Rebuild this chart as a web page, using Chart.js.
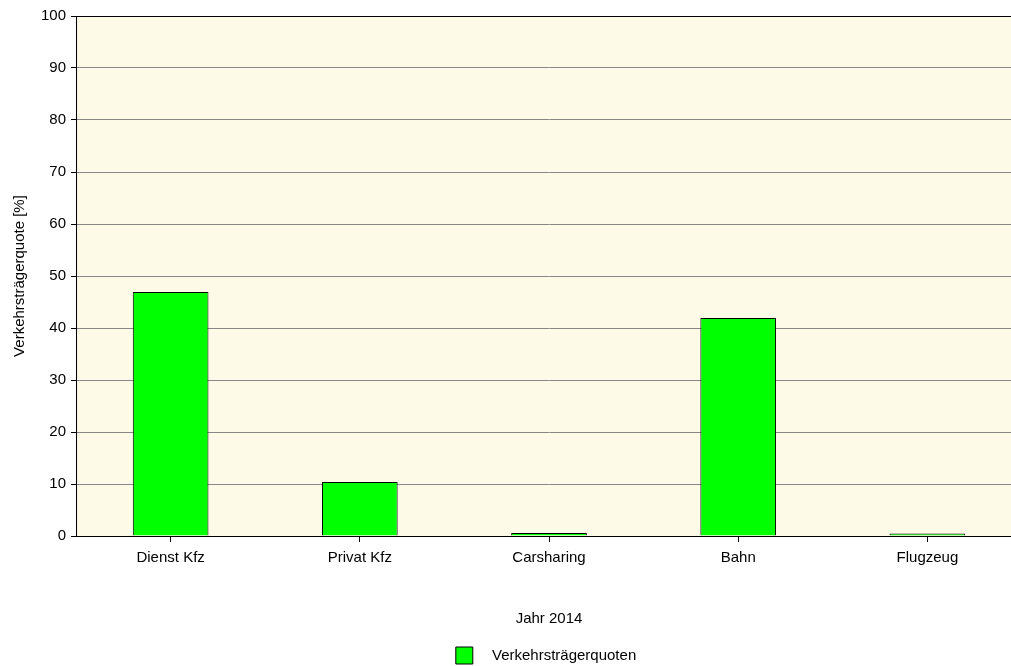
<!DOCTYPE html>
<html><head><meta charset="utf-8">
<script src="https://cdn.jsdelivr.net/npm/chart.js@4/dist/chart.umd.min.js"></script>
<style>html,body{margin:0;padding:0;overflow:hidden;background:#fff}#wrap{width:1022px;height:666px}</style>
</head><body><div id="wrap"><canvas id="c" width="1022" height="666"></canvas></div>
<script>
const categories = ["Dienst Kfz", "Privat Kfz", "Carsharing", "Bahn", "Flugzeug"];
const values = [46.9, 10.4, 0.6, 41.9, 0.5];
const seriesName = "Verkehrsträgerquoten";
const yTitle = "Verkehrsträgerquote [%]";
const xTitle = "Jahr 2014";

const FONT = "'Liberation Sans', Arial, sans-serif";

const bgPlugin = {
  id: 'bg',
  afterLayout(chart) {
    const a = chart.chartArea, lg = chart.legend;
    if (lg) {
      const dx = (a.left + a.right) / 2 - (lg.left + lg.right) / 2 - 3;
      lg.left += dx; lg.right += dx;
      lg.top += 8; lg.bottom += 8;
    }
  },
  beforeDraw(chart) {
    const {ctx, chartArea: a} = chart;
    ctx.save();
    ctx.fillStyle = '#fefae8';
    ctx.fillRect(a.left, a.top, a.right - a.left, a.bottom - a.top);
    ctx.restore();
  },
  afterDatasetsDraw(chart) {
    const {ctx, chartArea: a} = chart;
    ctx.save();
    ctx.strokeStyle = '#000';
    ctx.lineWidth = 1;
    ctx.strokeRect(a.left + 0.5, a.top + 0.5, a.right - a.left, a.bottom - a.top);
    ctx.restore();
  }
};

new Chart(document.getElementById('c'), {
  type: 'bar',
  data: {
    labels: categories,
    datasets: [{
      label: seriesName,
      data: values,
      backgroundColor: '#00ff00',
      borderColor: '#000000',
      borderWidth: 1,
      barPercentage: 0.4,
      categoryPercentage: 1.0
    }]
  },
  options: {
    responsive: false,
    animation: false,
    layout: {padding: {top: 16, left: 11, right: 0, bottom: 0}},
    plugins: {
      legend: {
        position: 'bottom',
        labels: {
          boxWidth: 17, boxHeight: 17, color: '#000', padding: 2,
          font: {family: FONT, size: 15},
          generateLabels(chart) {
            const items = Chart.defaults.plugins.legend.labels.generateLabels(chart);
            items.forEach(it => { it.text = '\u2002 ' + it.text; it.lineWidth = 1; it.strokeStyle = '#000'; });
            return items;
          }
        }
      },
      tooltip: {enabled: false}
    },
    scales: {
      x: {
        offset: true,
        grid: {drawOnChartArea: false, offset: false, drawTicks: true, tickLength: 6, tickColor: '#000'},
        border: {color: '#000'},
        ticks: {color: '#000', padding: 7, font: {family: FONT, size: 15}},
        title: {display: true, text: xTitle, color: '#000', padding: {top: 36, bottom: 9}, font: {family: FONT, size: 15}}
      },
      y: {
        min: 0, max: 100,
        ticks: {stepSize: 10, color: '#000', padding: 5, font: {family: FONT, size: 15}},
        grid: {color: '#888888', tickLength: 5, tickColor: '#000'},
        border: {color: '#000'},
        title: {display: true, text: yTitle, color: '#000', padding: {top: 0, bottom: 7}, font: {family: FONT, size: 15}}
      }
    }
  },
  plugins: [bgPlugin]
});
</script></body></html>
